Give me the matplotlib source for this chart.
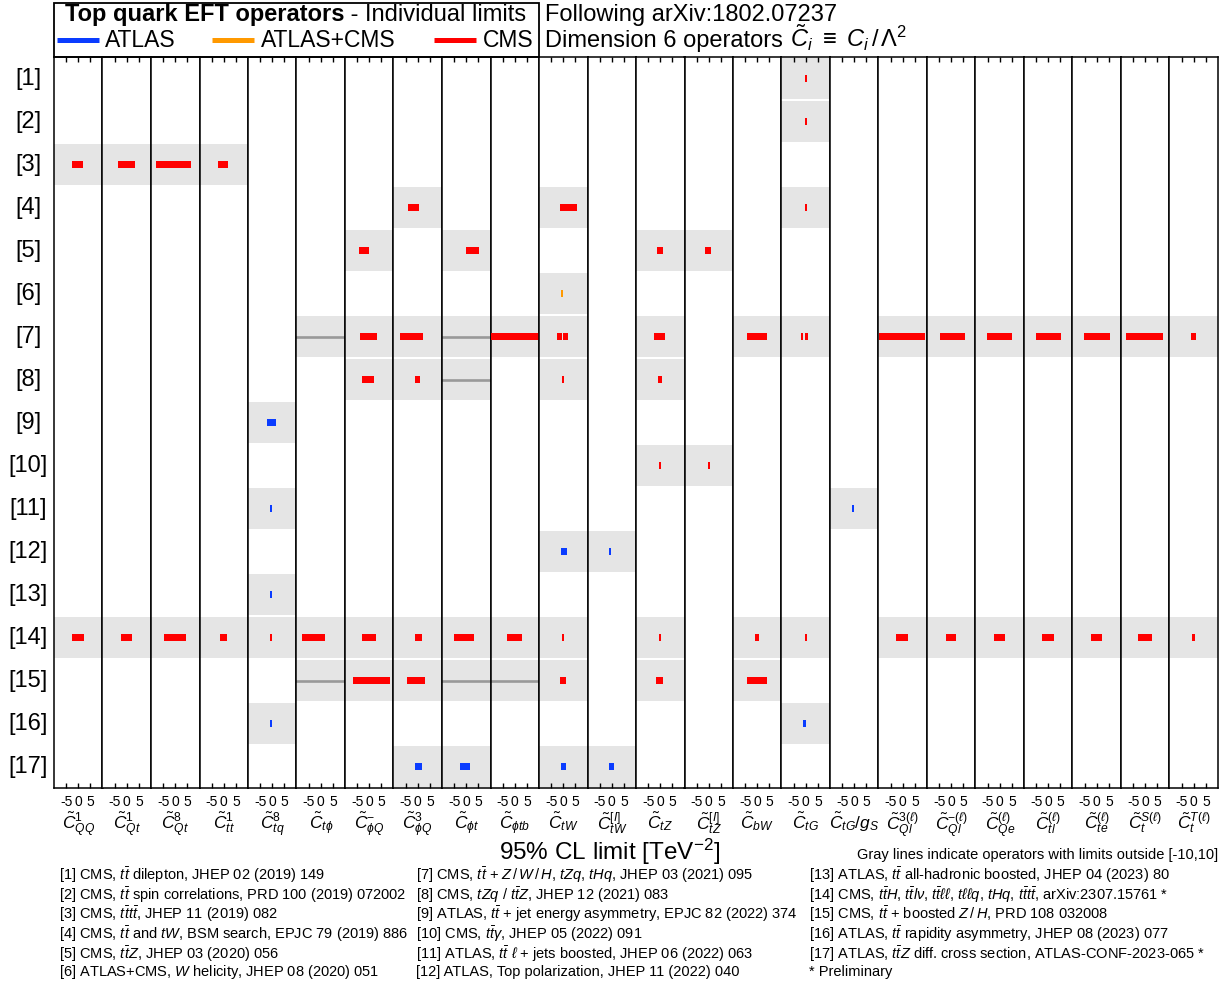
import matplotlib
matplotlib.use("Agg")
import matplotlib.pyplot as plt
from matplotlib.lines import Line2D
from matplotlib.patches import Rectangle

plt.rcParams['font.family'] = ['Liberation Sans', 'DejaVu Sans']
plt.rcParams['mathtext.fontset'] = 'custom'
plt.rcParams['mathtext.rm'] = 'Liberation Sans'
plt.rcParams['mathtext.it'] = 'Liberation Sans:italic'
plt.rcParams['mathtext.bf'] = 'Liberation Sans:bold'
plt.rcParams['mathtext.fallback'] = 'stixsans'
plt.rcParams['axes.unicode_minus'] = False

# ---- operators (columns) ----
op_keys = ["QQ1", "Qt1", "Qt8", "tt1", "tq8", "tphi", "phiQm", "phiQ3", "phit",
           "phitb", "tW", "tWI", "tZ", "tZI", "bW", "tG", "tGgs", "Ql3", "Qlm",
           "Qe", "tl", "te", "tS", "tT"]
op_labels = [r"$\tilde{C}^{1}_{QQ}$", r"$\tilde{C}^{1}_{Qt}$", r"$\tilde{C}^{8}_{Qt}$",
             r"$\tilde{C}^{1}_{tt}$", r"$\tilde{C}^{8}_{tq}$", r"$\tilde{C}_{t\phi}$",
             r"$\tilde{C}^{-}_{\phi Q}$", r"$\tilde{C}^{3}_{\phi Q}$", r"$\tilde{C}_{\phi t}$",
             r"$\tilde{C}_{\phi tb}$", r"$\tilde{C}_{tW}$", r"$\tilde{C}^{[I]}_{tW}$",
             r"$\tilde{C}_{tZ}$", r"$\tilde{C}^{[I]}_{tZ}$", r"$\tilde{C}_{bW}$",
             r"$\tilde{C}_{tG}$", r"$\tilde{C}_{tG}/g_S$", r"$\tilde{C}^{3(\ell)}_{Ql}$",
             r"$\tilde{C}^{-(\ell)}_{Ql}$", r"$\tilde{C}^{(\ell)}_{Qe}$", r"$\tilde{C}^{(\ell)}_{tl}$",
             r"$\tilde{C}^{(\ell)}_{te}$", r"$\tilde{C}^{S(\ell)}_{t}$", r"$\tilde{C}^{T(\ell)}_{t}$"]

# ---- 95% CL intervals per result: (operator, low, high) ----
lim_01 = [("tG", -0.5, 0.5)]
lim_02 = [("tG", -0.5, 0.5)]
lim_03 = [("QQ1", -2.5, 1.9), ("Qt1", -3.7, 3.4), ("Qt8", -8.1, 6.6), ("tt1", -2.3, 1.9)]
lim_04 = [("phiQ3", -4.0, 0.5), ("tW", -1.3, 5.7), ("tG", -0.5, 0.5)]
lim_05 = [("phiQm", -4.2, 0.0), ("phit", 0.0, 5.3), ("tZ", -1.3, 1.0), ("tZI", -1.4, 1.1)]
lim_06 = [("tW", -0.9, 0.1)]
lim_07 = [("phiQm", -3.8, 3.2), ("phiQ3", -7.3, 2.2), ("phitb", -9.8, 9.8),
          ("tW", -2.4, -0.4), ("tW", 0.0, 1.8), ("tZ", -2.6, 2.0), ("bW", -4.3, 3.9),
          ("tG", -1.9, -1.2), ("tG", -0.2, 0.8), ("Ql3", -9.8, 9.2), ("Qlm", -4.6, 5.7),
          ("Qe", -5.3, 5.1), ("tl", -5.0, 5.3), ("te", -5.2, 5.5), ("tS", -8.0, 7.3),
          ("tT", -1.1, 0.9)]
lim_08 = [("phiQm", -3.1, 2.1), ("phiQ3", -1.3, 1.0), ("tW", -0.6, 0.4), ("tZ", -0.9, 0.7)]
lim_09 = [("tq8", -2.2, 1.5)]
lim_10 = [("tZ", -0.5, 0.5), ("tZI", -0.5, 0.5)]
lim_11 = [("tq8", -1.0, 0.0), ("tGgs", -1.0, 0.0)]
lim_12 = [("tW", -0.9, 1.5), ("tWI", -1.2, -0.2)]
lim_13 = [("tq8", -1.0, 0.0)]
lim_14 = [("QQ1", -2.6, 2.4), ("Qt1", -2.4, 2.2), ("Qt8", -4.6, 4.4), ("tt1", -1.5, 1.3),
          ("tq8", -0.9, 0.1), ("tphi", -7.7, 1.7), ("phiQm", -3.0, 2.8), ("phiQ3", -1.1, 1.8),
          ("phit", -5.0, 3.2), ("phitb", -3.2, 3.0), ("tW", -0.5, 0.5), ("tZ", -0.6, 0.4),
          ("bW", -0.9, 0.7), ("tG", -0.5, 0.5), ("Ql3", -2.8, 2.2), ("Qlm", -2.2, 2.0),
          ("Qe", -2.4, 2.2), ("tl", -2.6, 2.4), ("te", -2.4, 2.2), ("tS", -3.0, 2.8),
          ("tT", -0.7, 0.5)]
lim_15 = [("phiQm", -6.7, 8.6), ("phiQ3", -4.4, 3.0), ("tW", -1.3, 1.1), ("tZ", -1.8, 1.1),
          ("bW", -4.2, 4.1)]
lim_16 = [("tq8", -1.0, 0.0), ("tG", -1.1, -0.1)]
lim_17 = [("phiQ3", -1.1, 1.8), ("phit", -2.6, 1.5), ("tW", -0.9, 1.1), ("tWI", -1.1, 1.0)]

# operators constrained only outside [-10, 10] (drawn as gray lines)
out_07 = ["tphi", "phit"]
out_08 = ["phit"]
out_15 = ["tphi", "phit", "phitb"]

results = [lim_01, lim_02, lim_03, lim_04, lim_05, lim_06, lim_07, lim_08, lim_09,
           lim_10, lim_11, lim_12, lim_13, lim_14, lim_15, lim_16, lim_17]
outside = {7: out_07, 8: out_08, 15: out_15}
experiment = ["CMS", "CMS", "CMS", "CMS", "CMS", "ATLAS+CMS", "CMS", "CMS", "ATLAS",
              "CMS", "ATLAS", "ATLAS", "ATLAS", "CMS", "CMS", "ATLAS", "ATLAS"]
exp_colors = {"ATLAS": "#0a3cff", "ATLAS+CMS": "#ff9900", "CMS": "#ff0000"}

references = [
    r"[1] CMS, $t\bar{t}$ dilepton, JHEP 02 (2019) 149",
    r"[2] CMS, $t\bar{t}$ spin correlations, PRD 100 (2019) 072002",
    r"[3] CMS, $t\bar{t}t\bar{t}$, JHEP 11 (2019) 082",
    r"[4] CMS, $t\bar{t}$ and $tW$, BSM search, EPJC 79 (2019) 886",
    r"[5] CMS, $t\bar{t}Z$, JHEP 03 (2020) 056",
    r"[6] ATLAS+CMS, $W$ helicity, JHEP 08 (2020) 051",
    r"[7] CMS, $t\bar{t}$ + $Z\,/\,W\,/\,H$, $tZq$, $tHq$, JHEP 03 (2021) 095",
    r"[8] CMS, $tZq$ / $t\bar{t}Z$, JHEP 12 (2021) 083",
    r"[9] ATLAS, $t\bar{t}$ + jet energy asymmetry, EPJC 82 (2022) 374",
    r"[10] CMS, $t\bar{t}\gamma$, JHEP 05 (2022) 091",
    r"[11] ATLAS, $t\bar{t}$ $\ell$ + jets boosted, JHEP 06 (2022) 063",
    r"[12] ATLAS, Top polarization, JHEP 11 (2022) 040",
    r"[13] ATLAS, $t\bar{t}$ all-hadronic boosted, JHEP 04 (2023) 80",
    r"[14] CMS, $t\bar{t}H$, $t\bar{t}l\nu$, $t\bar{t}\ell\ell$, $t\ell\ell q$, $tHq$, $t\bar{t}t\bar{t}$, arXiv:2307.15761 *",
    r"[15] CMS, $t\bar{t}$ + boosted $Z\,/\,H$, PRD 108 032008",
    r"[16] ATLAS, $t\bar{t}$ rapidity asymmetry, JHEP 08 (2023) 077",
    r"[17] ATLAS, $t\bar{t}Z$ diff. cross section, ATLAS-CONF-2023-065 *",
    r"* Preliminary",
]

W, H = 1232, 984
fig = plt.figure(figsize=(W / 100, H / 100), dpi=100)
axes = fig.subplots(1, len(op_keys), sharey=True, gridspec_kw=dict(wspace=0))
fig.subplots_adjust(left=54 / W, right=1218 / W, top=1 - 57 / H, bottom=1 - 788 / H)

n_rows = len(results)
box_color = "#e5e5e5"
for j, (ax, key) in enumerate(zip(axes, op_keys)):
    ax.set_xlim(-10, 10)
    ax.set_ylim(n_rows + 0.5, 0.5)
    for i, res in enumerate(results):
        row = i + 1
        ivals = [(lo, hi) for (k, lo, hi) in res if k == key]
        is_out = key in outside.get(row, [])
        if ivals or is_out:
            ax.axhspan(row - 0.475, row + 0.475, color=box_color, lw=0, zorder=0)
        if is_out:
            ax.axhline(row, color="#999999", lw=1.9, zorder=2)
        for lo, hi in ivals:
            ax.barh(row, hi - lo, left=lo, height=0.14, color=exp_colors[experiment[i]],
                    lw=0, zorder=3)
    ax.set_xticks([-5, 0, 5])
    ax.set_yticks([])
    ax.tick_params(axis='x', direction='in', top=True, bottom=True, length=3.5,
                   width=1, labelsize=10, pad=5)
    for s in ax.spines.values():
        s.set_linewidth(1.1)
    ax.set_xlabel(op_labels[j], fontsize=12.5, labelpad=1)

for i in range(n_rows):
    axes[0].text(-0.535, i + 1, f"[{i + 1}]", transform=axes[0].get_yaxis_transform(),
                 ha='center', va='center', fontsize=17)

# ---- header ----
fig.add_artist(Rectangle((54 / W, 1 - 57 / H), (539 - 54) / W, 54 / H,
                         transform=fig.transFigure, fill=False, lw=1.3, ec='black'))
renderer = fig.canvas.get_renderer()
t_bold = fig.text(65 / W, 1 - 21 / H, "Top quark EFT operators", fontsize=17,
                  weight='bold', va='baseline')
bb = t_bold.get_window_extent(renderer=renderer)
fig.text(bb.x1 / W, 1 - 21 / H, " - Individual limits", fontsize=17, va='baseline')

leg_items = [("ATLAS", 57, 105), ("ATLAS+CMS", 212, 261), ("CMS", 434, 483)]
for name, x0, xt in leg_items:
    fig.add_artist(Line2D([x0 / W, (x0 + 42) / W], [1 - 40 / H, 1 - 40 / H],
                          transform=fig.transFigure, color=exp_colors[name], lw=3.6,
                          solid_capstyle='butt'))
    fig.text(xt / W, 1 - 47 / H, name, fontsize=16.5, va='baseline')

fig.text(545 / W, 1 - 21 / H, "Following arXiv:1802.07237", fontsize=17, va='baseline')
t_dim = fig.text(545 / W, 1 - 47 / H, "Dimension 6 operators ", fontsize=17,
                 va='baseline')
bb = t_dim.get_window_extent(renderer=renderer)
fig.text(bb.x1 / W, 1 - 47 / H, r"$\tilde{C}_i\ \equiv\ C_i\,/\,\Lambda^2$", fontsize=17,
         va='baseline')

# ---- axis title and references ----
fig.text(610 / W, 1 - 852 / H, r"95% CL limit [TeV$^{-2}$]", ha='center', va='center',
         fontsize=17.5)
fig.text(1218 / W, 1 - 855 / H, "Gray lines indicate operators with limits outside [-10,10]",
         ha='right', va='center', fontsize=10.5)

line_y = [875, 895, 914, 934, 954, 972]
col_x = [59, 416, 809]
for n, ref in enumerate(references):
    c, r = divmod(n, 6)
    fig.text(col_x[c] / W, 1 - line_y[r] / H, ref, ha='left', va='center', fontsize=10.5)

fig.savefig("out.png", dpi=100)
